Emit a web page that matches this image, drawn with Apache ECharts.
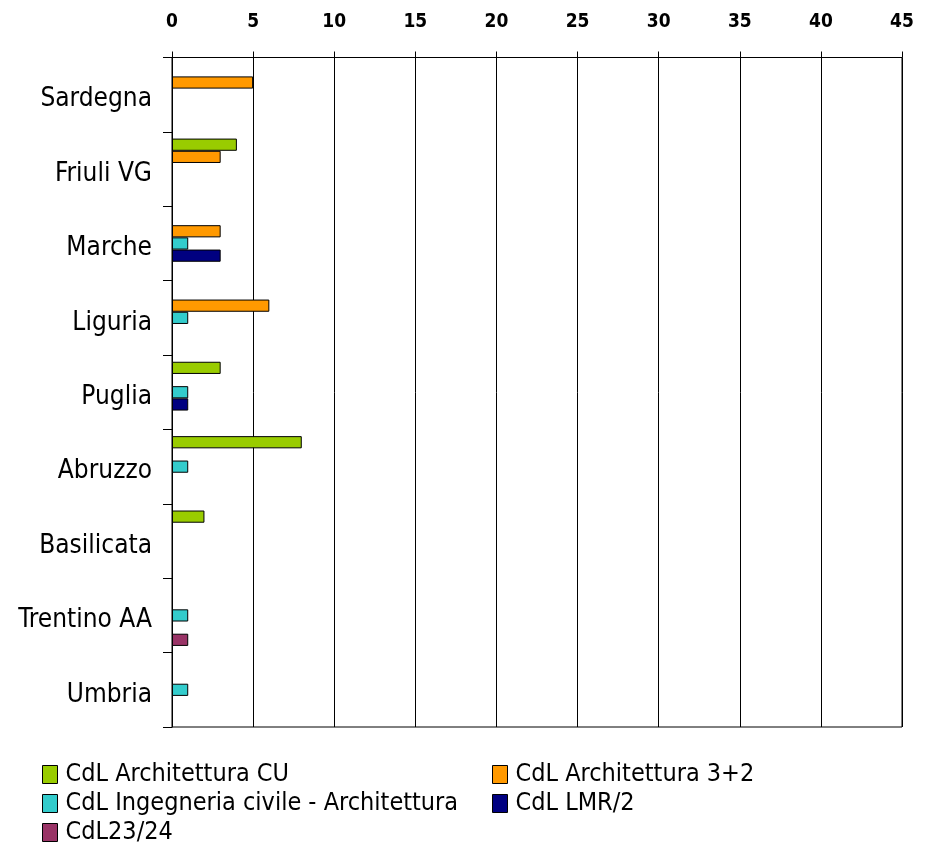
<!DOCTYPE html>
<html>
<head>
<meta charset="utf-8">
<script src="https://cdn.jsdelivr.net/npm/echarts@6/dist/echarts.min.js"></script>
<style>
  html, body { margin: 0; padding: 0; background: #fff; }
  #chart { width: 930px; height: 847px; }
</style>
</head>
<body>
<div id="chart"></div>
<script>
// regioni, dall'alto verso il basso
var regions = ['Sardegna', 'Friuli VG', 'Marche', 'Liguria', 'Puglia', 'Abruzzo', 'Basilicata', 'Trentino AA', 'Umbria'];

var seriesNames = ['CdL Architettura CU', 'CdL Architettura 3+2', 'CdL Ingegneria civile - Architettura', 'CdL LMR/2', 'CdL23/24'];
var colors = ['#99CC00', '#FF9900', '#33CCCC', '#000080', '#993366'];

var archCU = [null, 4, null, null, 3, 8, 2, null, null];
var arch32 = [5, 3, 3, 6, null, null, null, null, null];
var ingCivArch = [null, null, 1, 1, 1, 1, null, 1, 1];
var lmr2 = [null, null, 3, null, 1, null, null, null, null];
var cdl2324 = [null, null, null, null, null, null, null, 1, null];

var values = [archCU, arch32, ingCivArch, lmr2, cdl2324];

var font = "'DejaVu Sans Condensed', 'Liberation Sans', sans-serif";

var chart = echarts.init(document.getElementById('chart'));

var series = seriesNames.map(function (name, i) {
  return {
    name: name,
    type: 'bar',
    data: values[i],
    barGap: 0,
    barCategoryGap: '18%',
    itemStyle: { color: colors[i], borderColor: '#000', borderWidth: 1 }
  };
});

var legendText = { color: '#000', fontSize: 25, lineHeight: 29, fontFamily: font, padding: [0, 0, 0, 3] };

chart.setOption({
  animation: false,
  textStyle: { fontFamily: font },
  grid: {
    left: 172, right: 28, top: 57.5, bottom: 120,
    outerBoundsMode: 'none',
    show: true, borderColor: '#000', borderWidth: 1
  },
  xAxis: {
    type: 'value',
    position: 'top',
    min: 0,
    max: 45,
    interval: 5,
    axisLine: { show: true, lineStyle: { color: '#000', width: 1 } },
    axisTick: { show: true, length: 6, lineStyle: { color: '#000' } },
    axisLabel: { color: '#000', fontSize: 19, fontWeight: 'bold', margin: 26, fontFamily: font },
    splitLine: { show: true, lineStyle: { color: '#000', width: 1 } }
  },
  yAxis: {
    type: 'category',
    data: regions,
    inverse: true,
    axisLine: { show: true, lineStyle: { color: '#000', width: 1 } },
    axisTick: { show: true, length: 9, lineStyle: { color: '#000' } },
    // spostate un po' in basso come nell'originale
    axisLabel: { color: '#000', fontSize: 26, margin: 20, verticalAlign: 'top', lineHeight: 10, fontFamily: font }
  },
  legend: [
    {
      orient: 'vertical',
      left: 42,
      top: 760,
      padding: 0,
      icon: 'rect',
      itemWidth: 15,
      itemHeight: 18,
      itemGap: 0,
      data: [seriesNames[0], seriesNames[2], seriesNames[4]],
      itemStyle: { borderColor: '#000', borderWidth: 1 },
      textStyle: legendText
    },
    {
      orient: 'vertical',
      left: 492,
      top: 760,
      padding: 0,
      icon: 'rect',
      itemWidth: 15,
      itemHeight: 18,
      itemGap: 0,
      data: [seriesNames[1], seriesNames[3]],
      itemStyle: { borderColor: '#000', borderWidth: 1 },
      textStyle: legendText
    }
  ],
  series: series
});
</script>
</body>
</html>
